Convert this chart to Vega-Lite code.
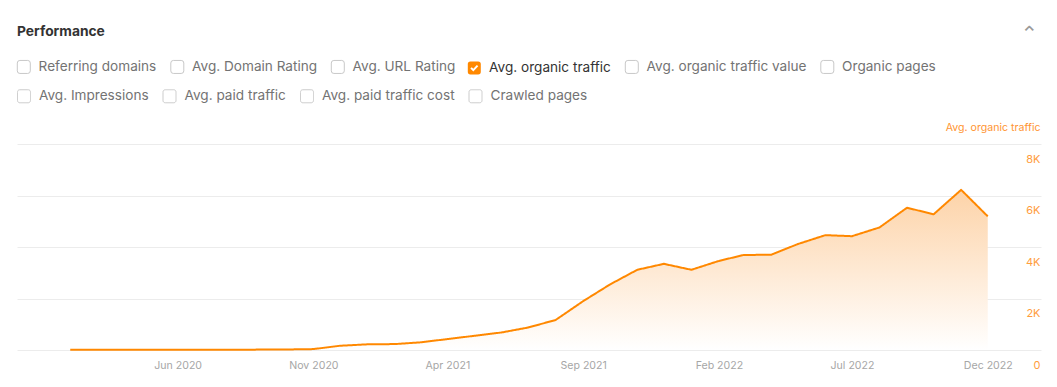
{
  "$schema": "https://vega.github.io/schema/vega-lite/v6.json",
  "width": 1024,
  "height": 206,
  "autosize": {"type": "none"},
  "padding": {"left": 17, "top": 144, "right": 16, "bottom": 37},
  "background": "#ffffff",
  "title": {"text": "⌃", "anchor": "end", "frame": "group", "color": "#9a9a9a", "fontSize": 21, "font": "DejaVu Sans", "fontWeight": "normal", "offset": 0, "dy": 20, "dx": -3},
  "config": {"view": {"stroke": null}, "font": "Inter"},
  "data": {"values": [
    {"month": "2020-02-01", "traffic": 5},
    {"month": "2020-03-01", "traffic": 5},
    {"month": "2020-04-01", "traffic": 5},
    {"month": "2020-05-01", "traffic": 5},
    {"month": "2020-06-01", "traffic": 8},
    {"month": "2020-07-01", "traffic": 10},
    {"month": "2020-08-01", "traffic": 12},
    {"month": "2020-09-01", "traffic": 15},
    {"month": "2020-10-01", "traffic": 20},
    {"month": "2020-11-01", "traffic": 35},
    {"month": "2020-12-01", "traffic": 165},
    {"month": "2021-01-01", "traffic": 220},
    {"month": "2021-02-01", "traffic": 230},
    {"month": "2021-03-01", "traffic": 296},
    {"month": "2021-04-01", "traffic": 423},
    {"month": "2021-05-01", "traffic": 550},
    {"month": "2021-06-01", "traffic": 680},
    {"month": "2021-07-01", "traffic": 873},
    {"month": "2021-08-01", "traffic": 1165},
    {"month": "2021-09-01", "traffic": 1896},
    {"month": "2021-10-01", "traffic": 2540},
    {"month": "2021-11-01", "traffic": 3115},
    {"month": "2021-12-01", "traffic": 3346},
    {"month": "2022-01-01", "traffic": 3115},
    {"month": "2022-02-01", "traffic": 3460},
    {"month": "2022-03-01", "traffic": 3690},
    {"month": "2022-04-01", "traffic": 3700},
    {"month": "2022-05-01", "traffic": 4115},
    {"month": "2022-06-01", "traffic": 4460},
    {"month": "2022-07-01", "traffic": 4420},
    {"month": "2022-08-01", "traffic": 4760},
    {"month": "2022-09-01", "traffic": 5525},
    {"month": "2022-10-01", "traffic": 5270},
    {"month": "2022-11-01", "traffic": 6220},
    {"month": "2022-12-01", "traffic": 5190}
  ]},
  "encoding": {
    "x": {
      "field": "month",
      "type": "temporal",
      "scale": {"type": "utc", "domain": [{"year": 2019, "month": 12, "date": 3, "utc": true}, {"year": 2023, "month": 1, "date": 30, "utc": true}]},
      "axis": {
        "values": [
          {"year": 2020, "month": 6, "date": 1, "utc": true},
          {"year": 2020, "month": 11, "date": 1, "utc": true},
          {"year": 2021, "month": 4, "date": 1, "utc": true},
          {"year": 2021, "month": 9, "date": 1, "utc": true},
          {"year": 2022, "month": 2, "date": 1, "utc": true},
          {"year": 2022, "month": 7, "date": 1, "utc": true},
          {"year": 2022, "month": 12, "date": 1, "utc": true}
        ],
        "format": "%b %Y",
        "labelColor": "#a6a6a6",
        "labelFont": "Inter",
        "labelFontSize": 10.6,
        "ticks": false,
        "domain": false,
        "grid": false,
        "labelPadding": 10,
        "labelFlush": false,
        "labelOverlap": false,
        "title": null
      }
    },
    "y": {
      "field": "traffic",
      "type": "quantitative",
      "scale": {"domain": [0, 8000], "nice": false},
      "axis": {
        "orient": "right",
        "values": [0, 2000, 4000, 6000, 8000],
        "labelExpr": "datum.value === 0 ? '0' : (datum.value / 1000) + 'K'",
        "labelColor": "#ff9d3d",
        "labelFont": "Inter",
        "labelFontSize": 11,
        "labelAlign": "right",
        "labelBaseline": "middle",
        "labelOffset": 15,
        "labelPadding": -1,
        "labelBound": false,
        "ticks": false,
        "domain": false,
        "grid": true,
        "gridColor": "#ececec",
        "gridWidth": 1,
        "title": "Avg. organic traffic",
        "titleColor": "#ff9533",
        "titleFont": "Inter",
        "titleFontSize": 10.6,
        "titleFontWeight": "normal",
        "titleAngle": 0,
        "titleAlign": "right",
        "titleBaseline": "middle",
        "titleX": -1,
        "titleY": -17
      }
    }
  },
  "layer": [
    {
      "mark": {
        "type": "area",
        "fill": {
          "gradient": "linear",
          "x1": 0, "y1": 1, "x2": 0, "y2": 0,
          "stops": [
            {"offset": 0, "color": "#ffffff"},
            {"offset": 1, "color": "#fdd3a8"}
          ]
        }
      }
    },
    {
      "mark": {"type": "line", "strokeWidth": 2, "strokeJoin": "round"},
      "encoding": {
        "stroke": {
          "datum": "Avg. organic traffic",
          "scale": {
            "domain": ["Referring domains", "Avg. Domain Rating", "Avg. URL Rating", "Avg. organic traffic", "Avg. organic traffic value", "Organic pages"],
            "range": ["#c8c8c8", "#c8c8c8", "#c8c8c8", "#ff8800", "#c8c8c8", "#c8c8c8"]
          },
          "legend": {
            "orient": "none",
            "legendX": 0,
            "legendY": -119,
            "direction": "horizontal",
            "title": "Performance",
            "titleFont": "Inter",
            "titleFontSize": 13.8,
            "titleFontWeight": 700,
            "titleColor": "#333333",
            "titlePadding": 21,
            "titleAnchor": "start",
            "labelFont": "Inter",
            "labelFontSize": 13.6,
            "labelColor": "#737373",
            "labelOffset": 8,
            "labelLimit": 0,
            "symbolSize": 169,
            "symbolStrokeWidth": 1,
            "columnPadding": 11.5,
            "padding": 0,
            "encode": {
              "symbols": {
                "update": {
                  "shape": {"signal": "datum.value === 'Avg. organic traffic' ? 'M-0.6,-1L0.6,-1Q1,-1,1,-0.6L1,0.6Q1,1,0.6,1L-0.6,1Q-1,1,-1,0.6L-1,-0.6Q-1,-1,-0.6,-1ZM-0.394,-0.106L-0.606,0.106L-0.15,0.562L0.61,-0.248L0.39,-0.452L-0.15,0.138Z' : 'M-0.6,-1L0.6,-1Q1,-1,1,-0.6L1,0.6Q1,1,0.6,1L-0.6,1Q-1,1,-1,0.6L-1,-0.6Q-1,-1,-0.6,-1Z'"},
                  "fill": {"signal": "datum.value === 'Avg. organic traffic' ? '#ff8800' : '#ffffff'"},
                  "stroke": {"signal": "datum.value === 'Avg. organic traffic' ? '#ff8800' : '#c8c8c8'"},
                  "strokeWidth": {"signal": "datum.value === 'Avg. organic traffic' ? 0 : 1"},
                  "opacity": {"value": 1}
                }
              },
              "labels": {
                "update": {
                  "fill": {"signal": "datum.value === 'Avg. organic traffic' ? '#333333' : '#737373'"}
                }
              }
            }
          }
        },
        "strokeDash": {
          "datum": "Avg. organic traffic",
          "scale": {
            "domain": ["Avg. Impressions", "Avg. paid traffic", "Avg. paid traffic cost", "Crawled pages", "Avg. organic traffic"],
            "range": [[1, 0], [1, 0], [1, 0], [1, 0], [1, 0]]
          },
          "legend": {
            "orient": "none",
            "legendX": 0,
            "legendY": -55,
            "direction": "horizontal",
            "values": ["Avg. Impressions", "Avg. paid traffic", "Avg. paid traffic cost", "Crawled pages"],
            "title": null,
            "labelFont": "Inter",
            "labelFontSize": 13.6,
            "labelColor": "#737373",
            "labelOffset": 8,
            "labelLimit": 0,
            "symbolType": "M-0.6,-1L0.6,-1Q1,-1,1,-0.6L1,0.6Q1,1,0.6,1L-0.6,1Q-1,1,-1,0.6L-1,-0.6Q-1,-1,-0.6,-1Z",
            "symbolSize": 169,
            "symbolFillColor": "#ffffff",
            "symbolStrokeColor": "#c8c8c8",
            "symbolStrokeWidth": 1,
            "symbolOpacity": 1,
            "columnPadding": 11.5,
            "padding": 0
          }
        }
      }
    }
  ]
}
